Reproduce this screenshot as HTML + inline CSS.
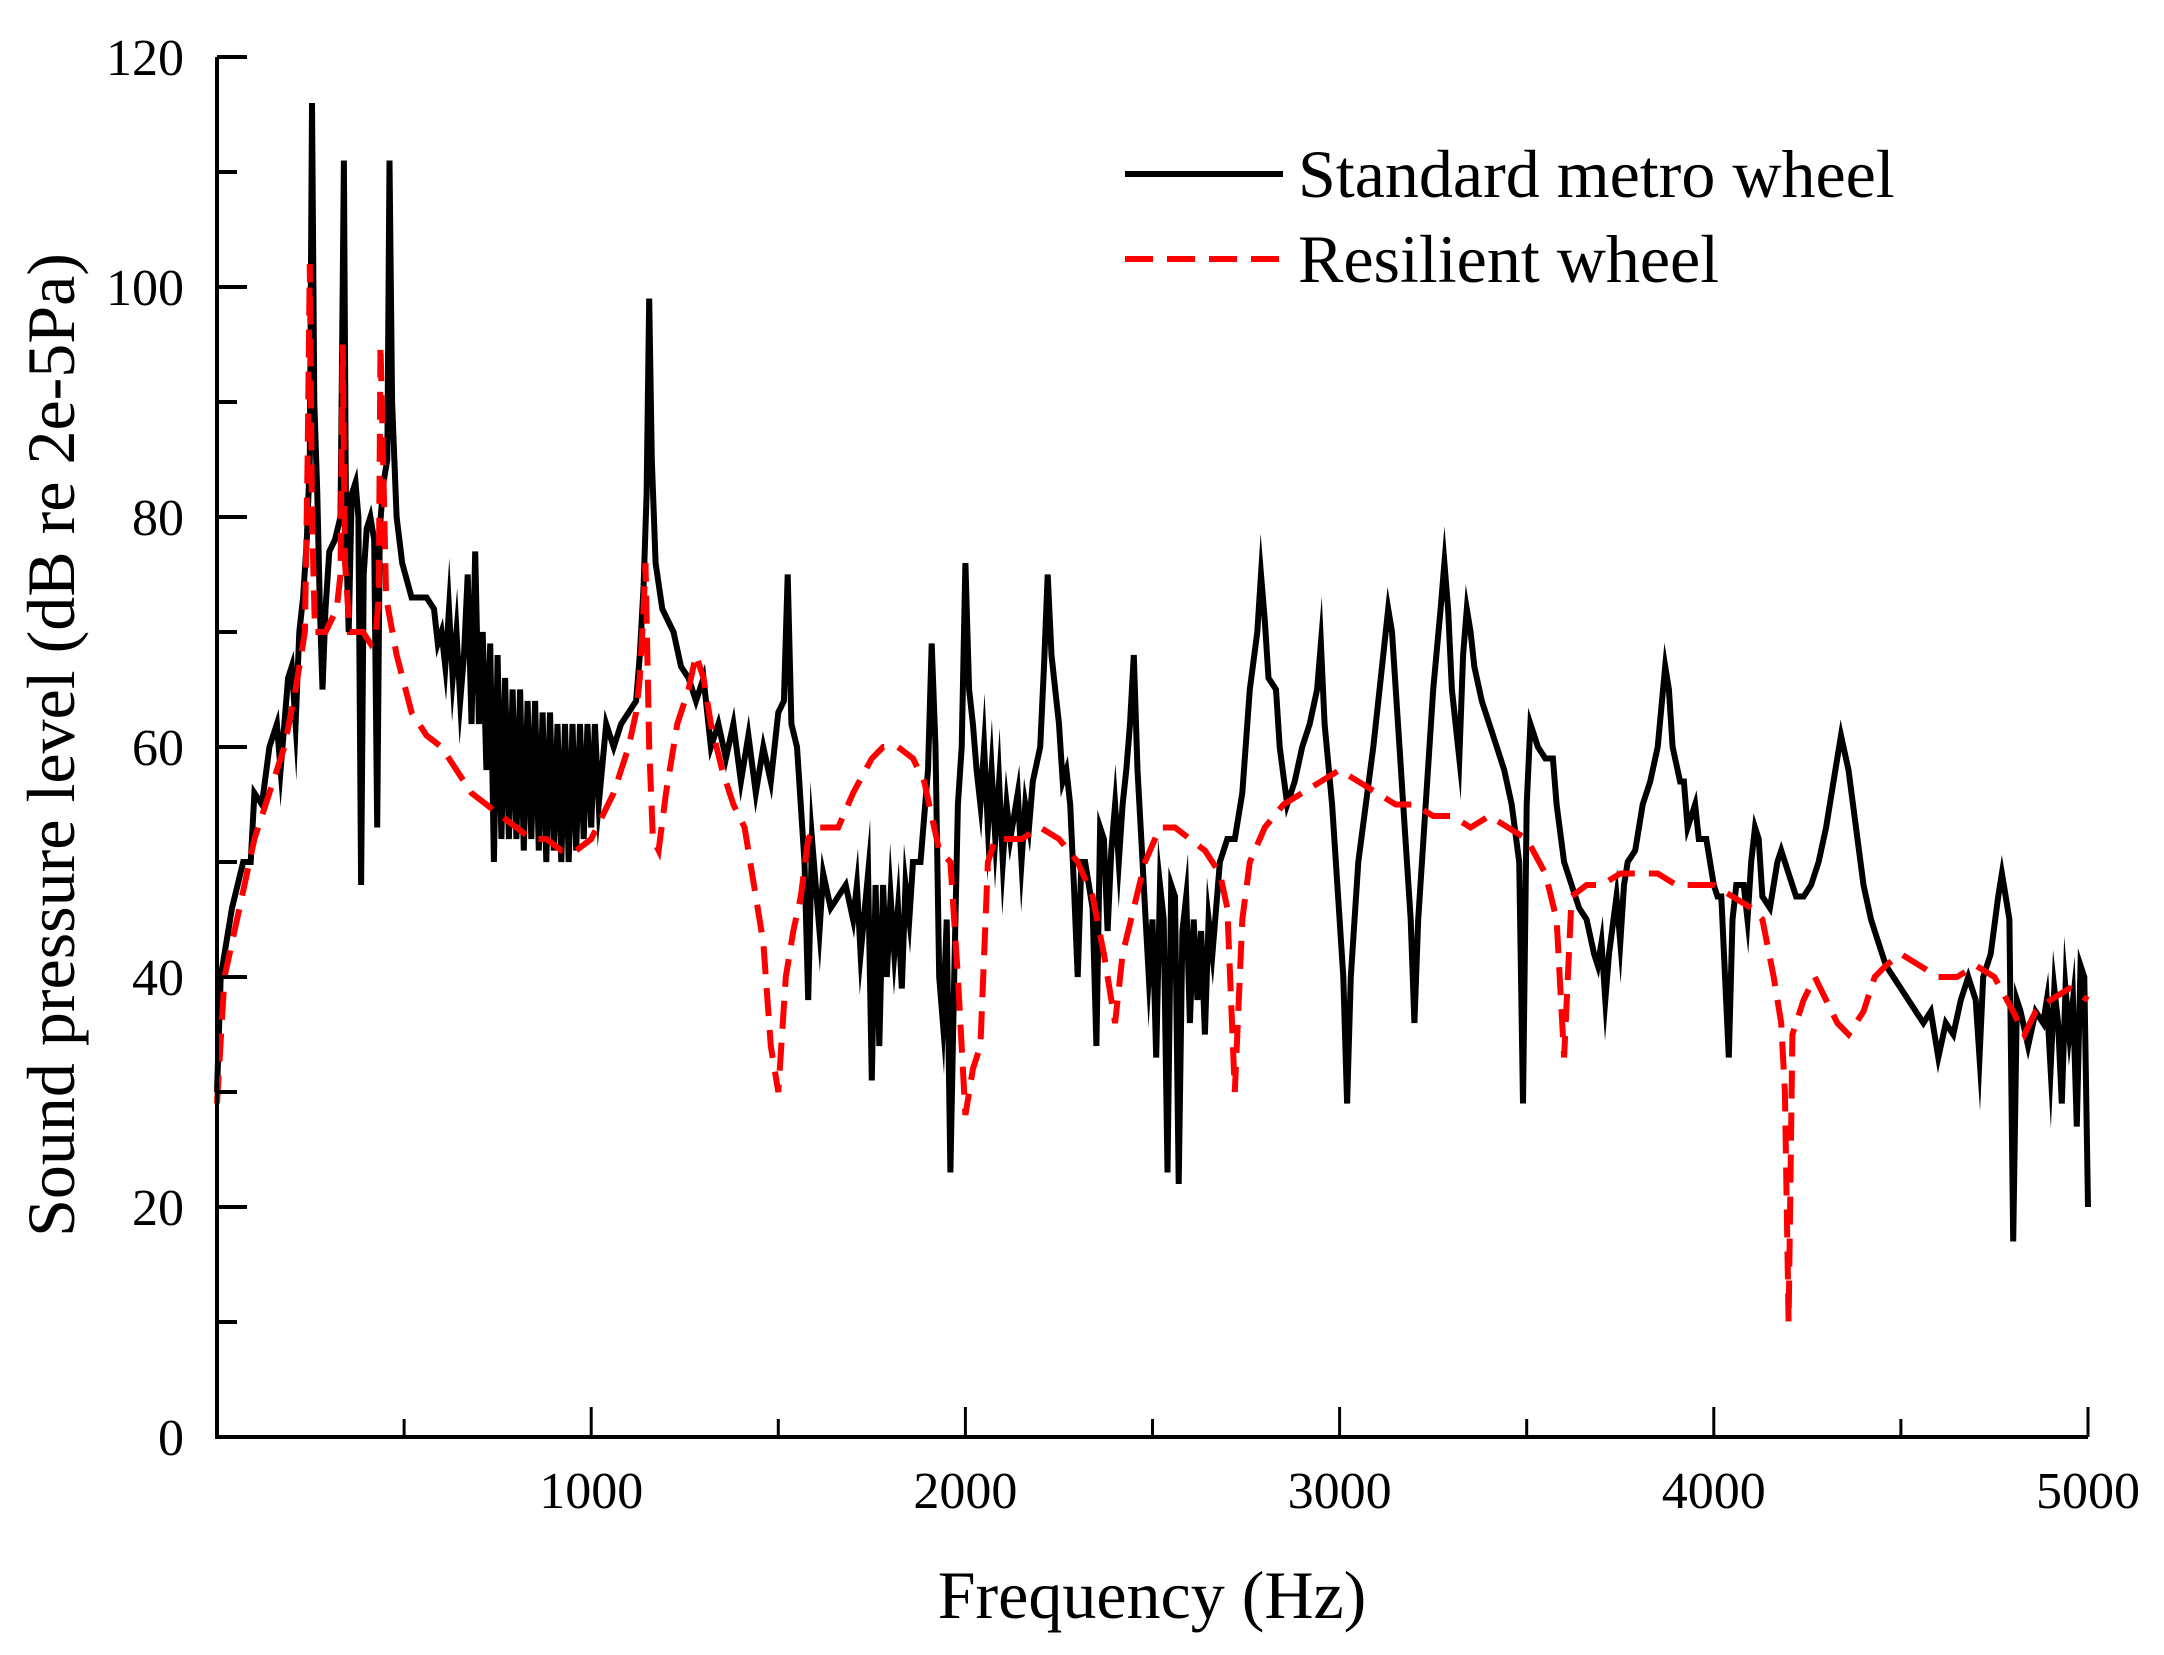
<!DOCTYPE html>
<html><head><meta charset="utf-8"><style>
html,body{margin:0;padding:0;background:#fff;}
svg{display:block;font-family:"Liberation Serif",serif;}
</style></head><body>
<svg id="chart" width="2164" height="1655" viewBox="0 0 2164 1655" xmlns="http://www.w3.org/2000/svg">
<g id="plot"></g>
<g id="axes"></g>
<text x="1152" y="1618" font-size="68" text-anchor="middle">Frequency (Hz)</text>
<text transform="translate(74,745) rotate(-90)" font-size="68" text-anchor="middle">Sound pressure level (dB re 2e-5Pa)</text>
<g>
<line x1="1125" y1="174" x2="1283" y2="174" stroke="#000" stroke-width="6"/>
<text x="1298" y="197" font-size="68">Standard metro wheel</text>
<line x1="1125" y1="259" x2="1283" y2="259" stroke="#f00" stroke-width="6" stroke-dasharray="28,14"/>
<text x="1298" y="282" font-size="68">Resilient wheel</text>
</g>
</svg>
<script>
const xTicks=[1000,2000,3000,4000,5000];
const yTicks=[0,20,40,60,80,100,120];
const stdFreq=[0,10,40,70,90,100,120,140,160,170,190,200,210,220,230,240,248,254,260,268,275,282,290,300,315,330,339,345,352,360,370,378,385,392,400,410,420,428,435,445,455,461,468,480,495,520,540,560,580,590,600,610,620,630,640,650,660,670,680,690,700,710,720,730,740,750,760,770,780,790,800,810,820,830,840,850,860,870,880,890,900,910,920,930,940,950,960,970,980,990,1000,1010,1020,1040,1060,1080,1100,1120,1130,1140,1148,1155,1162,1172,1190,1220,1240,1260,1280,1300,1320,1340,1360,1380,1400,1420,1440,1460,1480,1500,1515,1525,1535,1550,1570,1580,1590,1600,1610,1620,1640,1660,1680,1700,1710,1720,1740,1750,1760,1770,1780,1790,1800,1810,1820,1830,1840,1850,1860,1880,1900,1910,1920,1930,1940,1950,1960,1970,1980,1990,2000,2010,2020,2030,2040,2050,2060,2070,2080,2090,2100,2110,2120,2140,2150,2160,2170,2180,2200,2210,2220,2230,2240,2250,2260,2270,2280,2290,2300,2310,2320,2340,2350,2360,2370,2380,2390,2400,2410,2420,2430,2440,2450,2460,2470,2480,2490,2500,2510,2520,2530,2540,2550,2560,2570,2580,2590,2600,2610,2620,2630,2640,2650,2660,2680,2700,2720,2740,2760,2780,2790,2800,2810,2830,2840,2860,2880,2900,2920,2940,2950,2960,2980,3000,3010,3020,3030,3050,3070,3090,3110,3130,3140,3160,3170,3190,3200,3210,3230,3250,3270,3280,3290,3300,3310,3320,3330,3340,3350,3360,3380,3400,3420,3440,3460,3480,3490,3500,3510,3520,3530,3550,3570,3580,3600,3620,3640,3660,3680,3690,3700,3710,3720,3740,3750,3760,3770,3790,3810,3830,3850,3870,3880,3890,3910,3920,3930,3950,3960,3980,4000,4010,4020,4040,4050,4060,4080,4090,4100,4110,4120,4130,4150,4170,4180,4190,4200,4220,4240,4260,4280,4300,4320,4340,4360,4380,4400,4420,4440,4460,4480,4500,4520,4540,4560,4580,4600,4620,4640,4660,4680,4700,4710,4720,4740,4760,4770,4780,4790,4800,4810,4820,4840,4860,4880,4890,4900,4910,4920,4930,4940,4950,4960,4970,4980,4990,5000];
const stdVals=[30,40,46,50,50,56,55,60,62,58,66,67,62,70,73,78,85,116,90,82,72,65,72,77,78,80,111,78,70,82,83,80,48,75,79,80,78,53,79,83,85,111,90,80,76,73,73,73,72,69,70,67,72,66,70,64,68,75,62,77,62,70,58,69,50,68,52,66,52,65,52,65,51,64,52,64,51,63,50,63,51,62,50,62,50,62,51,62,52,62,53,62,55,62,60,62,63,64,68,74,82,99,85,76,72,70,67,66,64,66,60,62,59,62,57,61,56,60,57,63,64,75,62,60,50,38,52,48,44,49,46,47,48,45,48,42,49,31,48,34,48,40,47,42,46,39,48,45,50,50,58,69,60,40,36,45,23,40,55,60,76,65,62,58,55,60,53,58,52,57,50,55,52,56,50,55,53,57,60,67,75,68,65,62,57,58,55,48,40,50,50,46,34,53,52,44,51,55,50,55,58,62,68,58,52,46,40,45,33,48,45,23,48,47,22,44,47,36,45,38,44,35,45,42,50,52,52,56,65,70,75,71,66,65,60,55,57,60,62,65,69,62,55,45,40,29,40,50,55,60,66,72,70,60,55,45,36,45,55,65,72,76,72,65,62,59,68,72,70,67,64,62,60,58,55,50,29,55,62,61,60,59,59,55,50,48,46,45,42,41,43,38,42,47,43,48,50,51,55,57,60,67,65,60,57,57,53,55,52,52,48,47,47,33,45,48,48,45,50,53,52,47,46,50,51,50,49,47,47,48,50,53,57,61,58,53,48,45,43,41,40,39,38,37,36,37,33,36,35,38,40,38,33,40,42,47,49,47,45,17,38,37,34,37,36,38,32,39,36,29,39,35,38,27,41,40,20];
const resFreq=[0,20,60,100,140,180,210,235,242,248,254,262,290,320,330,336,342,355,390,410,425,432,437,444,452,480,520,560,600,640,680,720,760,800,840,880,920,960,1000,1030,1060,1080,1100,1120,1130,1140,1145,1155,1165,1180,1200,1230,1260,1280,1300,1320,1350,1380,1410,1440,1460,1480,1500,1520,1540,1560,1580,1600,1660,1700,1750,1780,1820,1860,1890,1930,1960,1980,2000,2020,2040,2060,2080,2100,2150,2200,2250,2300,2340,2370,2400,2420,2450,2480,2520,2560,2600,2640,2680,2700,2720,2740,2760,2800,2850,2900,2950,3000,3050,3100,3150,3200,3250,3300,3350,3400,3450,3500,3550,3580,3600,3620,3660,3700,3750,3800,3850,3900,3950,4000,4050,4100,4130,4160,4180,4190,4200,4210,4240,4270,4300,4330,4360,4400,4430,4460,4500,4550,4600,4650,4700,4750,4800,4830,4860,4900,4950,5000];
const resVals=[29,40,46,52,56,60,65,70,85,102,80,70,70,72,75,95,76,70,70,69,70,73,95,85,73,68,63,61,60,58,56,55,54,53,52,52,51,51,52,54,56,58,60,63,66,72,76,60,52,51,56,62,65,68,66,62,58,55,53,47,43,34,30,40,44,47,52,53,53,56,59,60,60,59,57,51,50,40,28,32,34,50,52,52,52,53,52,50,47,42,36,42,46,50,53,53,52,51,49,46,30,45,50,53,55,56,57,58,57,56,55,55,54,54,53,54,53,52,49,45,33,47,48,48,49,49,49,48,48,48,47,46,45,40,36,30,10,35,38,40,38,36,35,37,40,41,42,41,40,40,41,40,37,35,37,38,39,38];

const X0=217,X1=2088,Y0=1437,Y1=57;
function xs(f){return X0+(f/5000)*(X1-X0);}
function ys(v){return Y0-(v/120)*(Y0-Y1);}
const NS='http://www.w3.org/2000/svg';
const plot=document.getElementById('plot'),axes=document.getElementById('axes');
function mk(tag,attrs,parent){const e=document.createElementNS(NS,tag);for(const k in attrs)e.setAttribute(k,attrs[k]);parent.appendChild(e);return e;}

let d1=stdFreq.map((f,i)=>(i?'L':'M')+xs(f).toFixed(1)+','+ys(stdVals[i]).toFixed(1)).join('');
const p1=mk('path',{d:d1,fill:'none',stroke:'#000','stroke-width':6,'stroke-linejoin':'miter','stroke-miterlimit':20},plot);


let d2=resFreq.map((f,i)=>(i?'L':'M')+xs(f).toFixed(1)+','+ys(resVals[i]).toFixed(1)).join('');
const p2=mk('path',{d:d2,fill:'none',stroke:'#f00','stroke-width':6,'stroke-dasharray':'28,14'},plot);



const ax=mk('path',{d:`M${X0},${Y1}L${X0},${Y0}L${X1},${Y0}`,fill:'none',stroke:'#000','stroke-width':4},axes);


for(let v=0;v<=120;v+=10){
  const major=v%20===0;
  const t=mk('line',{x1:X0,x2:X0+(major?30:20),y1:ys(v),y2:ys(v),stroke:'#000','stroke-width':4},axes);
  
  
}
yTicks.forEach(v=>{
  const t=mk('text',{x:184,y:ys(v)+18,'font-size':52,'text-anchor':'end'},axes);
  t.textContent=v;
  
  
});
for(let f=500;f<=5000;f+=500){
  const major=f%1000===0;
  const t=mk('line',{x1:xs(f),x2:xs(f),y1:Y0,y2:Y0-(major?30:18),stroke:'#000','stroke-width':3},axes);
  
  
}
xTicks.forEach(f=>{
  const t=mk('text',{x:xs(f),y:1508,'font-size':52,'text-anchor':'middle'},axes);
  t.textContent=f;
  
  
});
</script>
</body></html>
